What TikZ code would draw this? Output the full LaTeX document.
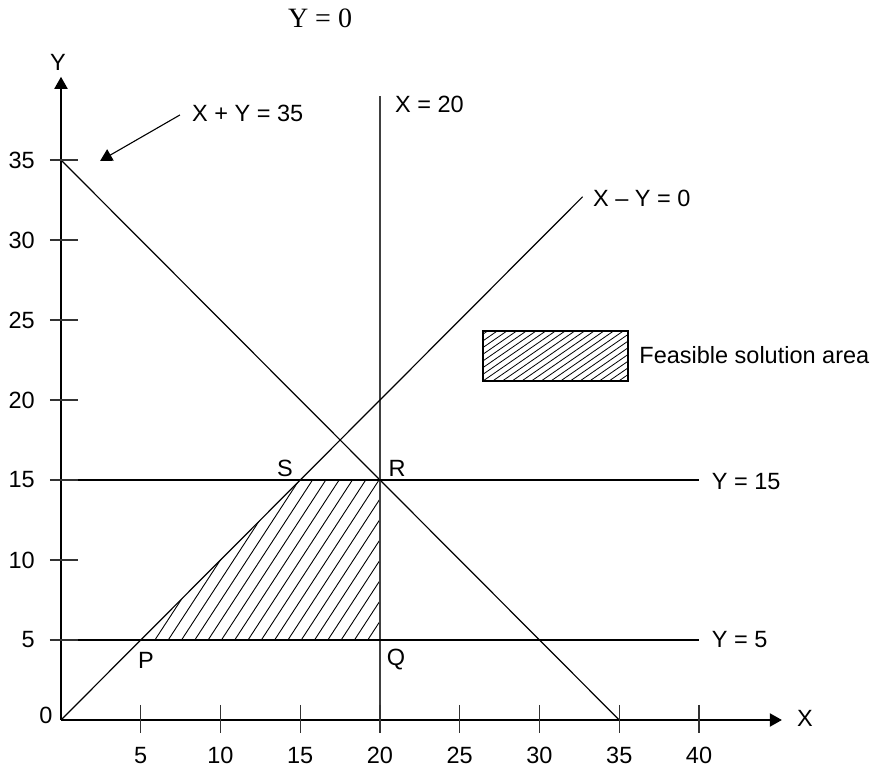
\documentclass[tikz,border=0pt]{standalone}
\usepackage{fontspec}
\setmainfont{Liberation Sans}
\newfontfamily\serifY{Liberation Serif}
\usetikzlibrary{arrows.meta}
\begin{document}
\begin{tikzpicture}[x=15.95pt,y=16pt,
  lbl/.style={inner sep=0pt, font=\fontsize{23.5}{28}\selectfont},
  lineth/.style={line width=1.2pt},
  axisline/.style={line width=1.9pt, -{Triangle[length=12pt,width=13pt]}},
  tickmark/.style={line width=1.3pt, black!80},
  hatchline/.style={line width=0.9pt}]
\useasboundingbox (-3.8245,-3.0625) rectangle (50.972,45);

% key coordinates
\coordinate (O) at (0,0);
\coordinate (Ytop) at (0,40.2);
\coordinate (Xend) at (45.2,0);
\coordinate (A35) at (0,35);
\coordinate (B35) at (35,0);
\coordinate (X20b) at (20,0);
\coordinate (X20t) at (20,39);
\coordinate (XYe) at (32.7,32.7);
\coordinate (Y15a) at (0,15);
\coordinate (Y15b) at (40,15);
\coordinate (Y5a) at (-0.69,5);
\coordinate (Y5b) at (40,5);
\coordinate (P) at (5,5);
\coordinate (Q) at (20,5);
\coordinate (R) at (20,15);
\coordinate (S) at (15,15);

% hatching of feasible region
\begin{scope}
  \clip (P) -- (Q) -- (R) -- (S) -- cycle;
  \foreach \i in {0,...,17}
    \draw[hatchline] ({5.89+0.834*\i-0.33},4.5) -- ++(7.2,11);
\end{scope}

% constraint lines
\draw[lineth] (A35) -- (B35);
\draw[line width=1.5pt, black!75] (X20b) -- (X20t);
\draw[lineth] (O) -- (XYe);
\draw[lineth] (Y15a) -- (Y15b);
\draw[lineth] (Y5a) -- (Y5b);

% axes
\draw[axisline] (O) -- (Ytop);
\draw[axisline] (O) -- (Xend);

% ticks
\foreach \v in {5,10,...,40} {
  \draw[tickmark] (\v,0.94) -- (\v,-0.81);
  \node[lbl] (xt\v) at (\v,-2.19) {\v};
}
\foreach \v in {5,10,...,35} {
  \draw[tickmark] (-0.69,\v) -- (1.07,\v);
  \node[lbl, anchor=east] (yt\v) at (-1.63,\v) {\v};
}
\node[lbl] (zero) at (-0.94,0.3) {0};

% axis labels
\node[lbl] (ylab) at (-0.19,41.1) {Y};
\node[lbl] (xlab) at (46.65,0.125) {X};

% line labels
\node[lbl, anchor=west] (lab35) at (8.21,37.94) {X + Y = 35};
\coordinate (arrT) at (2.45,34.94);
\draw[line width=1.1pt, -{Triangle[length=12pt,width=13pt]}] ([xshift=-12pt,yshift=-2pt]lab35.west) -- (arrT);
\node[lbl, anchor=west] (lab20) at (20.94,38.5) {X = 20};
\node[lbl, anchor=west] (labxy) at (33.35,32.6) {X -- Y = 0};
\node[lbl, anchor=west] (lab15) at (40.8,14.9) {Y = 15};
\node[lbl, anchor=west] (lab5) at (40.8,5) {Y = 5};

% point labels
\node[lbl] (lS) at (14.04,15.75) {S};
\node[lbl] (lR) at (21.07,15.75) {R};
\node[lbl] (lP) at (5.33,3.75) {P};
\node[lbl] (lQ) at (21.0,3.75) {Q};

% legend
\coordinate (L1) at (26.46,21.19);
\coordinate (L2) at (35.55,24.31);
\begin{scope}
  \clip (L1) rectangle (L2);
  \foreach \i in {-8,...,15}
    \draw[line width=0.8pt] ({26.46+0.608*\i},21.19) -- ++(4.6,3.165);
\end{scope}
\draw[line width=1.1pt] (L1) rectangle (L2);
\node[lbl, anchor=west] (leg) at (36.25,22.8) {Feasible solution area};

% stray title
\node[inner sep=0pt, font=\serifY\fontsize{28}{32}\selectfont] (title) at (16.24,43.875) {Y =\ 0};
\end{tikzpicture}
\end{document}
